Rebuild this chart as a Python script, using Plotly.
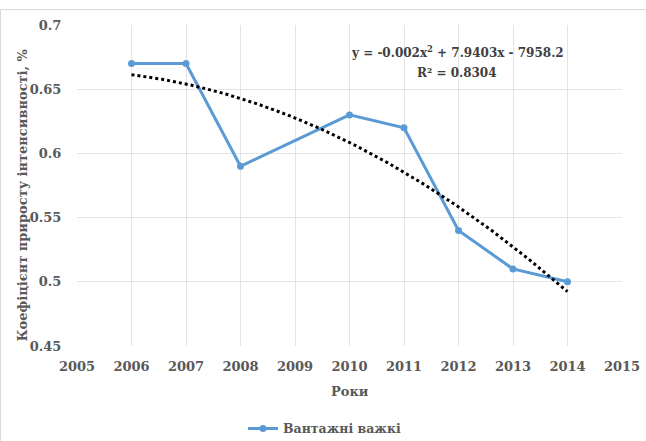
import numpy as np
import plotly.graph_objects as go

# Observed growth-intensity coefficient by year
years = [2006, 2007, 2008, 2010, 2011, 2012, 2013, 2014]
coef = [0.67, 0.67, 0.59, 0.63, 0.62, 0.54, 0.51, 0.50]
series_name = "Вантажні важкі"
equation_text = "y = -0.002x<sup>2</sup> + 7.9403x - 7958.2"
r2_text = "R² = 0.8304"
x_ticks = list(range(2005, 2016))
y_ticks = [0.45, 0.5, 0.55, 0.6, 0.65, 0.7]
y_tick_text = ["0.45", "0.5", "0.55", "0.6", "0.65", "0.7"]

# Second-order polynomial trend fitted to the observations
xa = np.array(years, dtype=float)
ya = np.array(coef, dtype=float)
p = np.polyfit(xa - 2010, ya, 2)
xt = np.linspace(min(years), max(years), 200)
yt = np.polyval(p, xt - 2010)

serif = "DejaVu Serif"
grey = "#595959"
grid = "#E4E4E4"

PL, PR, PT, PB = 77, 622, 24.5, 346
PW, PH = PR - PL, PB - PT


def px(x):
    return (x - PL) / PW


def py(y):
    return 1 - (y - PT) / PH


fig = go.Figure()
fig.add_trace(go.Scatter(
    x=years, y=coef, mode="lines+markers", name=series_name,
    line=dict(color="#5B9BD5", width=3),
    marker=dict(color="#5B9BD5", size=7),
))
fig.add_trace(go.Scatter(
    x=xt, y=yt, mode="lines", showlegend=False, hoverinfo="skip",
    line=dict(color="#000000", width=3, dash="dot"),
))

fig.update_layout(
    width=646, height=441,
    margin=dict(l=PL, r=646 - PR, t=PT, b=441 - PB, autoexpand=False),
    paper_bgcolor="white", plot_bgcolor="white",
    font=dict(family=serif),
    showlegend=True,
    legend=dict(
        orientation="h", x=px(243), xanchor="left",
        y=py(429), yanchor="middle",
        font=dict(family=serif, size=12.5, color=grey, weight="bold"),
    ),
    xaxis=dict(
        range=[2005, 2015], tickmode="array", tickvals=x_ticks,
        showgrid=True, gridcolor=grid, gridwidth=1,
        zeroline=False, showline=False,
        ticks="outside", ticklen=8, tickcolor="rgba(0,0,0,0)",
        tickfont=dict(family=serif, size=13, color=grey, weight="bold"),
    ),
    yaxis=dict(
        range=[0.45, 0.7], tickmode="array", tickvals=y_ticks, ticktext=y_tick_text,
        showgrid=True, gridcolor=grid, gridwidth=1,
        zeroline=False, showline=False,
        ticks="outside", ticklen=12, tickcolor="rgba(0,0,0,0)",
        tickfont=dict(family=serif, size=13, color=grey, weight="bold"),
    ),
    annotations=[
        dict(text=equation_text, x=px(457), y=py(52), xref="paper", yref="paper",
             xanchor="center", yanchor="middle", showarrow=False,
             font=dict(family=serif, size=12, color="#404040", weight="bold")),
        dict(text=r2_text, x=px(457), y=py(73), xref="paper", yref="paper",
             xanchor="center", yanchor="middle", showarrow=False,
             font=dict(family=serif, size=12, color="#404040", weight="bold")),
        dict(text="Роки", x=px(350), y=py(392),
             xref="paper", yref="paper", showarrow=False,
             xanchor="center", yanchor="middle",
             font=dict(family=serif, size=13, color=grey, weight="bold")),
        dict(text="Коефіцієнт приросту інтенсивності, %", textangle=-90,
             x=px(22), y=py(195),
             xref="paper", yref="paper", showarrow=False,
             xanchor="center", yanchor="middle",
             font=dict(family=serif, size=13, color=grey, weight="bold")),
    ],
    shapes=[
        dict(type="line", xref="paper", yref="paper",
             x0=px(0), x1=px(646), y0=py(9), y1=py(9),
             line=dict(color="#D9D9D9", width=1)),
        dict(type="line", xref="paper", yref="paper",
             x0=px(0.5), x1=px(0.5), y0=py(9), y1=py(441),
             line=dict(color="#D9D9D9", width=1)),
    ],
)

fig.write_html("out.html")
